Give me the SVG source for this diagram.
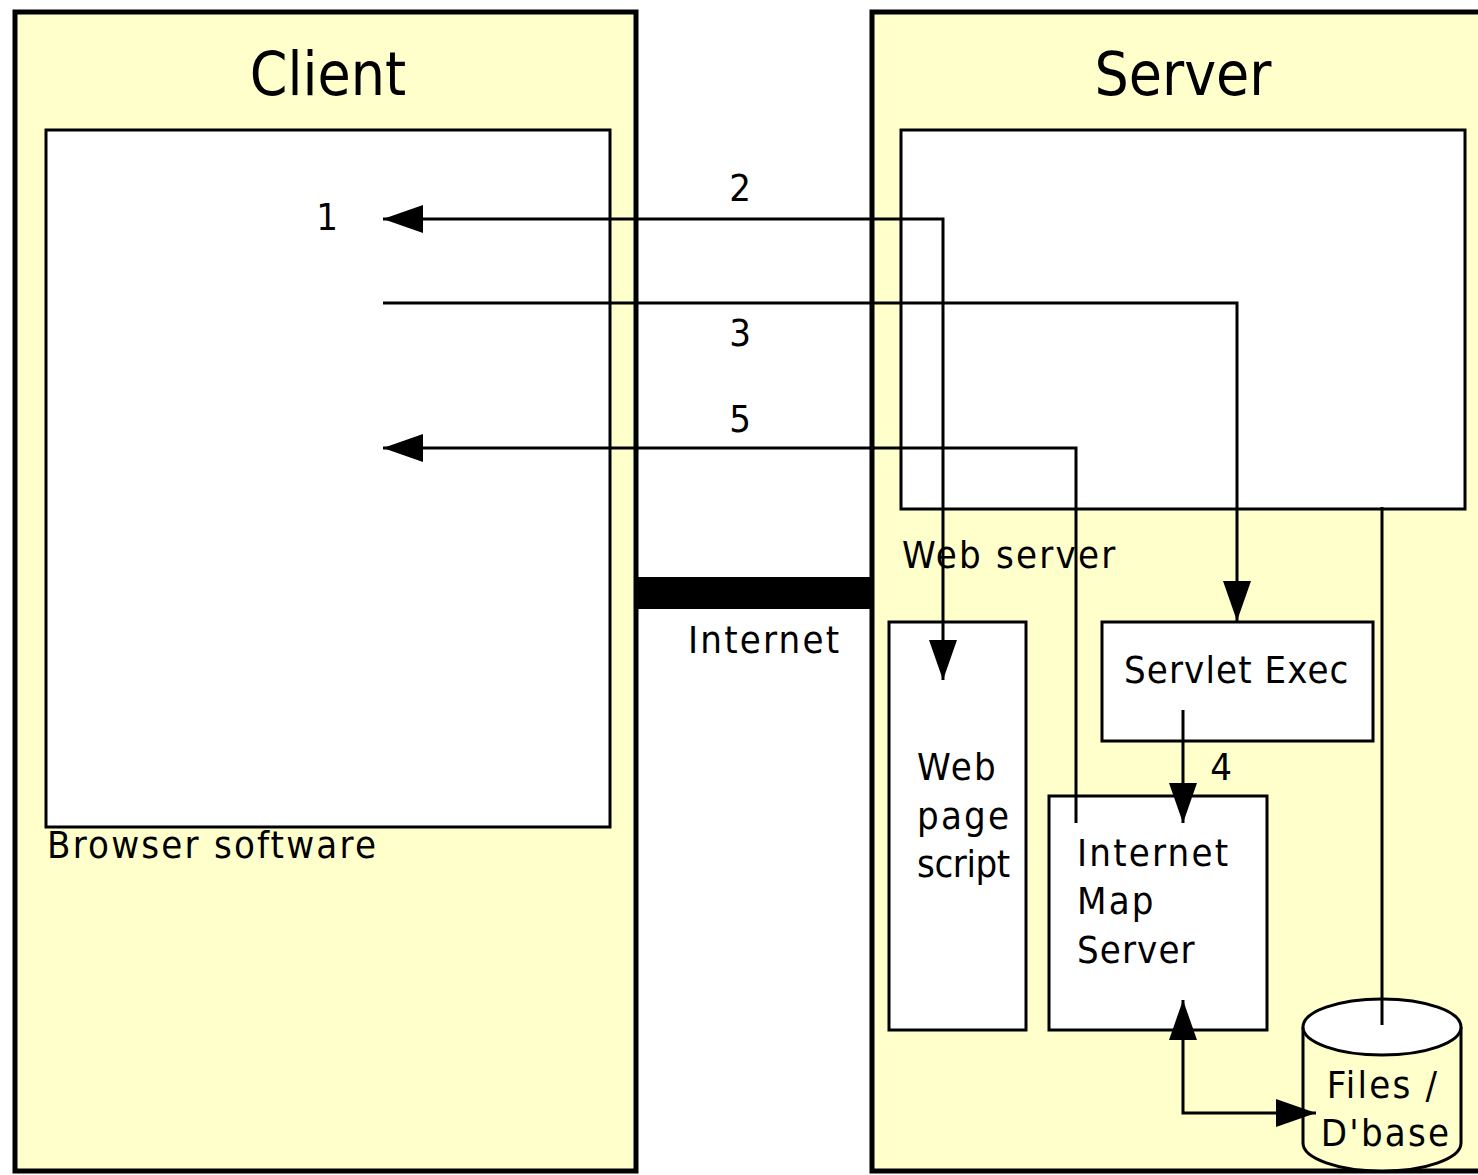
<svg xmlns="http://www.w3.org/2000/svg" width="1478" height="1175" viewBox="0 0 1478 1175">
  <style>
    .zone { fill: #ffffcc; stroke: #000; stroke-width: 5; }
    .box { fill: #fff; stroke: #000; stroke-width: 3; }
    .title { font-family: "DejaVu Sans Condensed", "DejaVu Sans", sans-serif; font-size: 60px; fill: #000; }
    .lbl { font-family: "DejaVu Sans Condensed", "DejaVu Sans", sans-serif; font-size: 38px; fill: #000; letter-spacing: 2.2px; }
    .lbl.tight { letter-spacing: -0.4px; }
    .lbl.mid { letter-spacing: 1.1px; }
    .num { font-family: "DejaVu Sans Condensed", "DejaVu Sans", sans-serif; font-size: 38px; fill: #000; }
    .wire { fill: none; stroke: #000; stroke-width: 3; }
  </style>
  <defs>
    <marker id="arrow" viewBox="0 0 40 28" refX="40" refY="14" markerWidth="40" markerHeight="28" markerUnits="userSpaceOnUse" orient="auto-start-reverse">
      <path d="M0,0 L40,14 L0,28 Z" fill="#000"/>
    </marker>
  </defs>

  <rect width="1478" height="1175" fill="#fff"/>

  <!-- Client side -->
  <g id="client">
    <rect class="zone" x="15" y="12" width="621" height="1159"/>
    <text class="title" x="328" y="95" text-anchor="middle">Client</text>
  </g>
  <g id="browser">
    <rect class="box" x="46" y="130" width="564" height="697"/>
    <text class="lbl" x="47" y="858">Browser software</text>
  </g>

  <!-- Server side -->
  <g id="server">
    <rect class="zone" x="872" y="12" width="620" height="1159"/>
    <text class="title" x="1183" y="95" text-anchor="middle">Server</text>
  </g>
  <g id="web-server">
    <rect class="box" x="901" y="130" width="564" height="379"/>
    <text class="lbl" x="902" y="568">Web server</text>
  </g>

  <!-- Internet link between the two sides -->
  <g id="internet">
    <rect x="637" y="577" width="235" height="32" fill="#000"/>
    <text class="lbl" x="688" y="653">Internet</text>
  </g>

  <g id="web-page-script">
    <rect class="box" x="889" y="622" width="137" height="408"/>
    <text class="lbl" x="917" y="780">Web</text>
    <text class="lbl" x="917" y="829">page</text>
    <text class="lbl tight" x="917" y="877">script</text>
  </g>

  <g id="servlet-exec">
    <rect class="box" x="1102" y="622" width="271" height="119"/>
    <text class="lbl mid" x="1124" y="683">Servlet Exec</text>
  </g>

  <g id="map-server">
    <rect class="box" x="1049" y="796" width="218" height="234"/>
    <text class="lbl" x="1077" y="866">Internet</text>
    <text class="lbl" x="1077" y="914">Map</text>
    <text class="lbl mid" x="1077" y="963">Server</text>
  </g>

  <g id="files-dbase">
    <path d="M1303,1027 L1303,1143 A79,28 0 0 0 1461,1143 L1461,1027" fill="#ffffcc" stroke="#000" stroke-width="3"/>
    <ellipse cx="1382" cy="1027" rx="79" ry="28" fill="#fff" stroke="#000" stroke-width="3"/>
    <text class="lbl" x="1383" y="1098" text-anchor="middle">Files /</text>
    <text class="lbl" x="1386" y="1146" text-anchor="middle">D'base</text>
  </g>

  <!-- Connectors -->
  <g id="connectors">
    <polyline class="wire" points="383,219 943,219 943,680" marker-start="url(#arrow)" marker-end="url(#arrow)"/>
    <polyline class="wire" points="383,303 1237,303 1237,621" marker-end="url(#arrow)"/>
    <polyline class="wire" points="1076,823 1076,448 383,448" marker-end="url(#arrow)"/>
    <line class="wire" x1="1183" y1="710" x2="1183" y2="823" marker-end="url(#arrow)"/>
    <polyline class="wire" points="1183,1000 1183,1113 1316,1113" marker-start="url(#arrow)" marker-end="url(#arrow)"/>
    <line class="wire" x1="1382" y1="507" x2="1382" y2="1025"/>
    <text class="num" x="327" y="230" text-anchor="middle">1</text>
    <text class="num" x="740" y="201" text-anchor="middle">2</text>
    <text class="num" x="740" y="346" text-anchor="middle">3</text>
    <text class="num" x="1221" y="780" text-anchor="middle">4</text>
    <text class="num" x="740" y="432" text-anchor="middle">5</text>
  </g>
</svg>
